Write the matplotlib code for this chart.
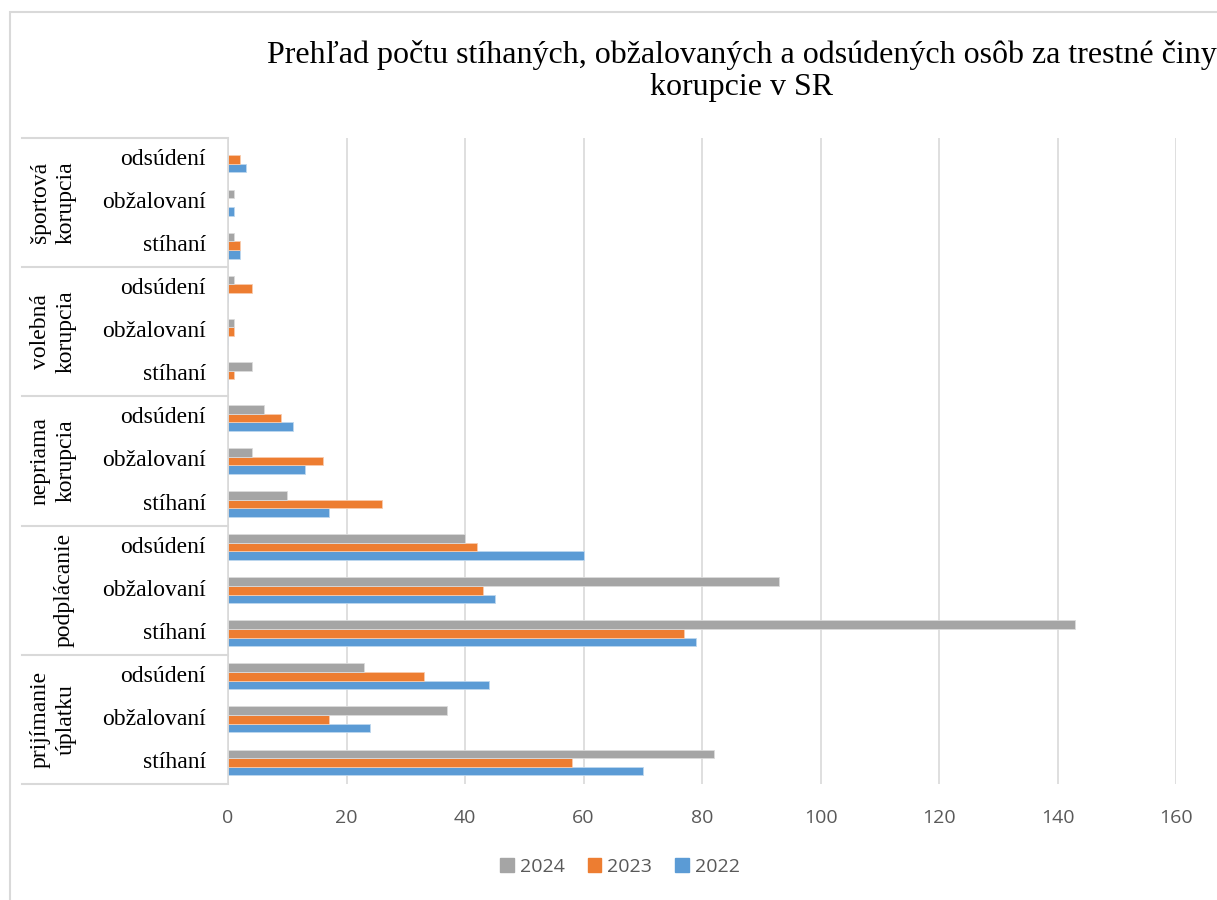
import numpy as np
import matplotlib
matplotlib.use('Agg')
import matplotlib.pyplot as plt
import matplotlib.transforms as mtransforms
from matplotlib.patches import Patch, Rectangle

# data (bottom to top, as in the chart)
groups = ['prijímanie\núplatku', 'podplácanie', 'nepriama\nkorupcia',
          'volebná\nkorupcia', 'športová\nkorupcia']
subcats = ['stíhaní', 'obžalovaní', 'odsúdení']

v2022 = [70, 24, 44, 79, 45, 60, 17, 13, 11, 0, 0, 0, 2, 1, 3]
v2023 = [58, 17, 33, 77, 43, 42, 26, 16, 9, 1, 1, 4, 2, 0, 2]
v2024 = [82, 37, 23, 143, 93, 40, 10, 4, 6, 4, 1, 1, 1, 1, 0]

years = ['2024', '2023', '2022']
colors = {'2024': '#A5A5A5', '2023': '#ED7D31', '2022': '#5B9BD5'}

serif = ['Liberation Serif', 'DejaVu Serif']
sans = ['Open Sans', 'DejaVu Sans']
grid_c = '#D9D9D9'
text_c = '#595959'

fig = plt.figure(figsize=(12.17, 9), dpi=100)
ax = fig.add_axes([228 / 1217, 1 - 784 / 900, (1176 - 228) / 1217, (784 - 138) / 900])

y = np.arange(len(v2022))
h = 0.2
ax.barh(y - h, v2022, height=h, color=colors['2022'], edgecolor='#BDD7EE', linewidth=0.6)
ax.barh(y, v2023, height=h, color=colors['2023'], edgecolor='#F8CBAD', linewidth=0.6)
ax.barh(y + h, v2024, height=h, color=colors['2024'], edgecolor='#DBDBDB', linewidth=0.6)

ax.set_xlim(0, 160)
ax.set_ylim(-0.5, len(v2022) - 0.5)
ax.set_xticks(np.arange(0, 161, 20))
ax.tick_params(axis='x', length=0, pad=18, labelsize=14, labelcolor=text_c)
for lab in ax.get_xticklabels():
    lab.set_family(sans)
ax.set_yticks([])
ax.grid(axis='x', color=grid_c, linewidth=1.2)
ax.set_axisbelow(True)
for s in ['top', 'right', 'bottom']:
    ax.spines[s].set_visible(False)
ax.spines['left'].set_color(grid_c)
ax.spines['left'].set_linewidth(1.2)

# multi-level category labels
trans = mtransforms.blended_transform_factory(ax.transAxes, ax.transData)
x_left = (22 - 228) / (1176 - 228)
x_sub = (206 - 228) / (1176 - 228)
for i in range(len(v2022)):
    ax.text(x_sub, i, subcats[i % 3], transform=trans, ha='right', va='center',
            fontsize=17, family=serif, color='black')
for g, name in enumerate(groups):
    xg = (53 - 228) / (1176 - 228) if '\n' in name else (64 - 228) / (1176 - 228)
    ax.text(xg, g * 3 + 1, name, transform=trans, ha='center', va='center',
            rotation=90, fontsize=17, family=serif, linespacing=1.3, color='black')
for b in np.arange(-0.5, len(v2022), 3):
    ax.plot([x_left, 0], [b, b], transform=trans, color=grid_c, linewidth=1.5,
            clip_on=False)

# title
fig.text(742 / 1217, 1 - 71 / 900,
         'Prehľad počtu stíhaných, obžalovaných a odsúdených osôb za trestné činy\nkorupcie v SR',
         ha='center', va='center', fontsize=23, family=serif, linespacing=1.15)

# legend
handles = [Patch(color=colors[yr], label=yr) for yr in years]
fig.legend(handles=handles, loc='center', bbox_to_anchor=(620 / 1217, 1 - 867 / 900),
           ncol=3, frameon=False, prop={'family': sans, 'size': 14},
           labelcolor=text_c, handlelength=0.7, handleheight=0.7,
           handletextpad=0.3, columnspacing=1.2)

# chart border
fig.patches.append(Rectangle((10 / 1217, -0.1), 1.2, 1 - 12 / 900 + 0.1,
                             transform=fig.transFigure, fill=False,
                             edgecolor=grid_c, linewidth=1.5))

fig.savefig('out.png', dpi=100)
